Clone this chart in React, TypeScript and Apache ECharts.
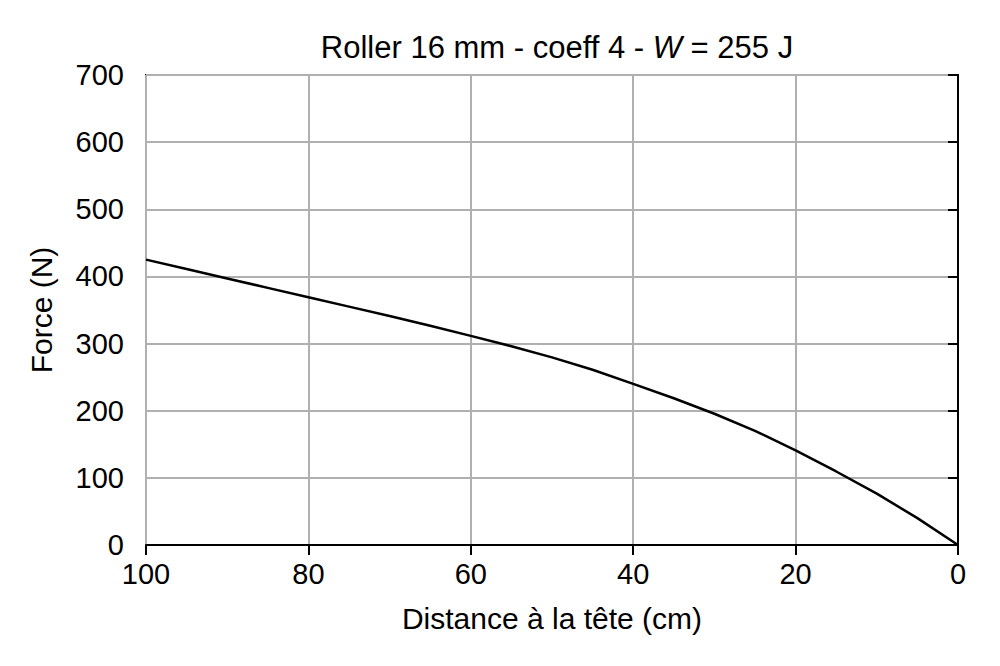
import React, { useEffect, useRef } from "react";
import * as echarts from "echarts";

const distances = [100, 95, 90, 85, 80, 75, 70, 65, 60, 55, 50, 45, 40, 35, 30, 25, 20, 15, 10, 5, 0];
const forces = [425, 411, 397, 383, 369, 355, 341, 326.5, 311.5, 296, 279.5, 261, 240, 218.5, 195.5, 170, 141, 109.5, 76.5, 40, 0];
const xTicks = [0, 20, 40, 60, 80, 100];
const yTicks = [0, 100, 200, 300, 400, 500, 600, 700];

export default function App() {
  const ref = useRef<HTMLDivElement>(null);
  useEffect(() => {
    if (!ref.current) return;
    const chart = echarts.init(ref.current, null, { renderer: "svg" });
    const font = "Liberation Sans, Arial, sans-serif";
    chart.setOption({
      animation: false,
      backgroundColor: "#ffffff",
      title: {
        text: "{a|Roller 16 mm - coeff 4 - }{b|W}{a| = 255 J}",
        left: 552,
        textAlign: "center",
        top: 27,
        textStyle: {
          fontWeight: "normal",
          rich: {
            a: { fontFamily: font, fontSize: 31, color: "#000", fontWeight: "normal" },
            b: { fontFamily: font, fontSize: 31, color: "#000", fontStyle: "italic", fontWeight: "normal" },
          },
        },
      },
      grid: {
        left: 146,
        right: 42,
        top: 75,
        bottom: 121,
        show: true,
        borderColor: "#000",
        borderWidth: 2,
        backgroundColor: "transparent",
      },
      xAxis: {
        type: "value",
        inverse: true,
        min: xTicks[0],
        max: xTicks[xTicks.length - 1],
        interval: 20,
        name: "Distance à la tête (cm)",
        nameLocation: "middle",
        nameGap: 58,
        nameTextStyle: { fontFamily: font, fontSize: 30, color: "#000" },
        axisLine: { show: true, lineStyle: { color: "#000", width: 2 } },
        axisTick: { show: true, inside: false, length: 10, lineStyle: { color: "#000", width: 2 } },
        axisLabel: { fontFamily: font, fontSize: 29, color: "#000", margin: 14 },
        splitLine: { show: true, lineStyle: { color: "#b0b0b0", width: 2 } },
      },
      yAxis: {
        type: "value",
        min: yTicks[0],
        max: yTicks[yTicks.length - 1],
        interval: 100,
        name: "Force (N)",
        nameLocation: "middle",
        nameGap: 90,
        nameTextStyle: { fontFamily: font, fontSize: 30, color: "#000" },
        axisLine: { show: true, lineStyle: { color: "#000", width: 2 } },
        axisTick: { show: true, inside: false, length: 10, lineStyle: { color: "#000", width: 2 } },
        axisLabel: { fontFamily: font, fontSize: 29, color: "#000", margin: 22 },
        splitLine: { show: true, lineStyle: { color: "#b0b0b0", width: 2 } },
      },
      series: [
        {
          type: "line",
          data: distances.map((d, i) => [d, forces[i]]),
          smooth: false,
          showSymbol: false,
          lineStyle: { color: "#000", width: 2.5 },
          z: 5,
        },
      ],
    });
    return () => chart.dispose();
  }, []);
  return (
    <div
      ref={ref}
      style={{ position: "fixed", left: 0, top: 0, width: 1000, height: 666 }}
    />
  );
}
